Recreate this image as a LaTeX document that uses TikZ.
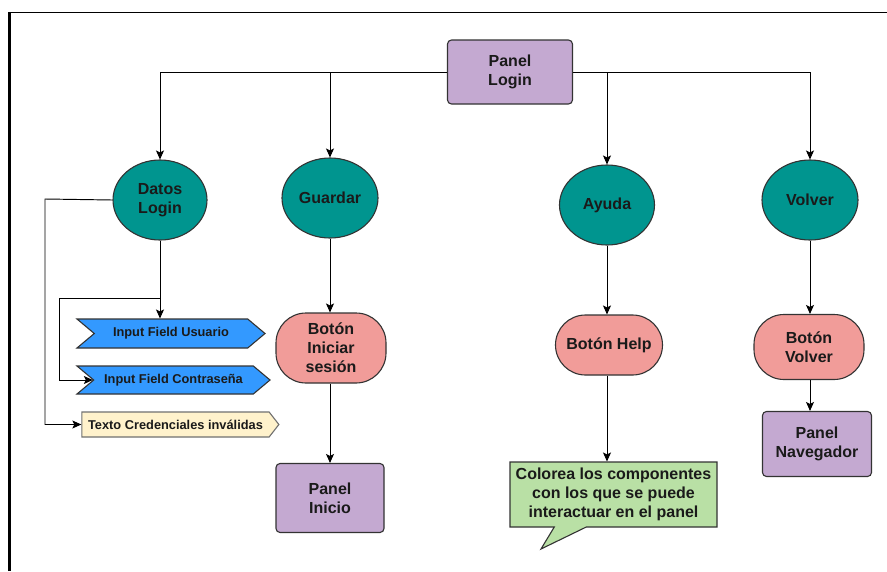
\documentclass[tikz,border=0pt]{standalone}
\usepackage{fontspec}
\setmainfont{Liberation Sans}
\usetikzlibrary{shapes.geometric,shapes.symbols,shapes.callouts,arrows.meta}

\definecolor{panelfill}{HTML}{C4A9D1}
\definecolor{tealfill}{HTML}{00958F}
\definecolor{btnfill}{HTML}{F19C99}
\definecolor{fieldfill}{HTML}{3399FF}
\definecolor{msgfill}{HTML}{FFF2CC}
\definecolor{notefill}{HTML}{B9E0A5}
\definecolor{edge}{HTML}{333333}
\definecolor{ink}{HTML}{1A1A1A}

\tikzset{
  base/.style={draw=edge, line width=1.1pt, text=ink, align=center,
    font=\bfseries\fontsize{16}{19}\selectfont, inner sep=2pt},
  panel/.style={base, fill=panelfill, rectangle, rounded corners=4pt},
  action/.style={base, fill=tealfill, ellipse, inner sep=0pt},
  button/.style={base, fill=btnfill, rectangle, rounded corners=30pt},
  field/.style={base, fill=fieldfill, signal, signal to=east, signal from=west,
    signal pointer angle=80, inner sep=0pt, font=\bfseries\fontsize{12.8}{15}\selectfont},
  message/.style={base, fill=msgfill, draw=edge!70, signal, signal to=east,
    signal pointer angle=104, inner sep=0pt, font=\bfseries\fontsize{12.8}{15}\selectfont},
  note/.style={base, fill=notefill, rectangle callout, inner sep=0pt},
  link/.style={draw=black, line width=0.95pt},
  arr/.style={link, -{Stealth[length=9pt,width=8pt,inset=2pt]}},
}

\begin{document}
\begin{tikzpicture}[x=1pt, y=-1pt]
  \useasboundingbox (0,0) rectangle (887,571);
  \fill[white] (0,0) rectangle (887,571);

  % page frame
  \draw[line width=1.8pt] (9.5,12.5) -- (887,12.5);
  \draw[line width=2.6pt] (9.5,571) -- (9.5,11.6);

  % main panel
  \node[panel, minimum width=125pt, minimum height=64pt] (login) at (510,72) {Panel\\Login};

  % actions
  \node[action, minimum width=94pt, minimum height=80pt] (datos) at (160,200) {Datos\\Login};
  \node[action, minimum width=96pt, minimum height=80pt] (guardar) at (330,198) {Guardar};
  \node[action, minimum width=95pt, minimum height=80pt] (ayuda) at (607,205) {Ayuda};
  \node[action, minimum width=96pt, minimum height=80pt] (volver) at (810,200) {Volver};

  % buttons
  \node[button, minimum width=110pt, minimum height=70pt] (iniciar) at (331,348) {Botón\\Iniciar\\sesión};
  \node[button, minimum width=107pt, minimum height=60pt] (help) at (609,345) {Botón Help};
  \node[button, minimum width=110pt, minimum height=65pt] (bvolver) at (809,347) {Botón\\Volver};

  % target panels
  \node[panel, minimum width=108pt, minimum height=69pt] (inicio) at (330,498) {Panel\\Inicio};
  \node[panel, minimum width=109pt, minimum height=65pt] (navegador) at (817,444) {Panel\\Navegador};

  % login components
  \node[field, minimum width=188pt, minimum height=29pt] (usuario) at (171,333.5) {Input Field Usuario};
  \node[field, minimum width=193pt, minimum height=28pt] (contra) at (173.5,380) {Input Field Contraseña};
  \node[message, minimum width=197pt, minimum height=25pt] (texto) at (175.5,424.5) {Texto Credenciales inválidas};

  % help note
  \node[note, minimum width=207pt, minimum height=65pt, callout absolute pointer={(541,549)},
    callout pointer width=32pt] (nota) at (613.5,494.5)
    {Colorea los componentes\\con los que se puede\\interactuar en el panel};

  % bend points
  \coordinate (bendA) at (59,298);
  \coordinate (bendB) at (45,199);

  % connectors from the main panel
  \draw[arr] (login.west) -| (datos.north);
  \draw[arr] (login.west) -| (guardar.north);
  \draw[arr] (login.east) -| (ayuda.north);
  \draw[arr] (login.east) -| (volver.north);

  % login data
  \draw[arr] (datos.south) -- (datos.south |- usuario.north);
  \draw[arr] (datos.south) |- (bendA) |- (contra.west);
  \draw[arr] (datos.west) -- (bendB) |- (texto.west);

  % flows
  \draw[arr] (guardar.south) -- (guardar.south |- iniciar.north);
  \draw[arr] (guardar.south |- iniciar.south) -- (guardar.south |- inicio.north);
  \draw[arr] (ayuda.south) -- (ayuda.south |- help.north);
  \draw[arr] (ayuda.south |- help.south) -- (ayuda.south |- nota.north);
  \draw[arr] (volver.south) -- (volver.south |- bvolver.north);
  \draw[arr] (volver.south |- bvolver.south) -- (volver.south |- navegador.north);
\end{tikzpicture}
\end{document}
